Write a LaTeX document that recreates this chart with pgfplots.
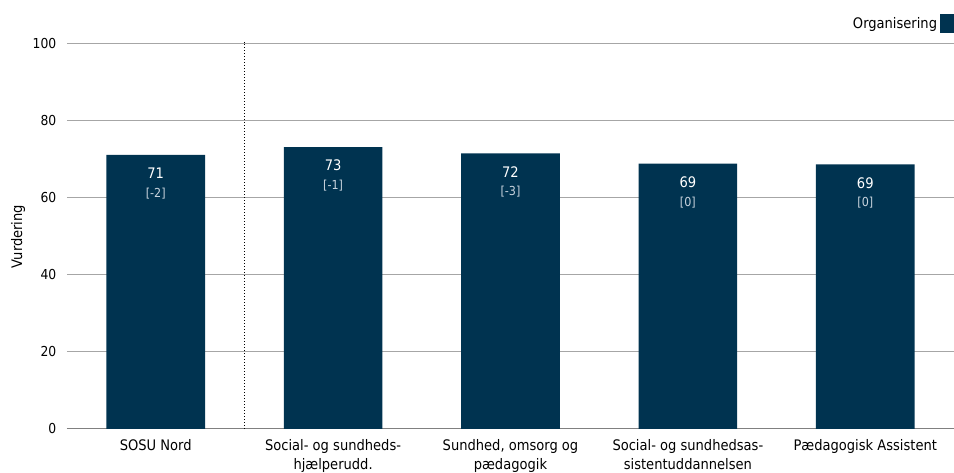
\documentclass[border=0pt]{standalone}
\usepackage{pgfplots}
\pgfplotsset{compat=1.18}
\usepackage{pgfplotstable}
\usepackage{fontspec}
\setmainfont{DejaVu Sans Condensed}
\definecolor{barc}{HTML}{003350}
\definecolor{gridc}{HTML}{A6A6A6}
\definecolor{axc}{HTML}{808080}
\definecolor{subc}{HTML}{C8D3DD}
\pgfplotstableread{
x y lab d
0 71.2 71 -2
1 73.2 73 -1
2 71.6 72 -3
3 68.9 69 0
4 68.7 69 0
}\datatable
\begin{document}
\begin{tikzpicture}[x=0.75pt,y=0.75pt]
\useasboundingbox (-67,-44) rectangle (887,429);
\begin{axis}[
  at={(0,0)}, anchor=south west,
  scale only axis, width=665.25pt, height=288.75pt,
  xmin=-0.5, xmax=4.5, ymin=0, ymax=100,
  ytick={0,20,...,100},
  xtick={0,...,4},
  xticklabels={SOSU Nord, {Social- og sundheds-\\hjælperudd.}, {Sundhed, omsorg og\\pædagogik}, {Social- og sundhedsas-\\sistentuddannelsen}, Pædagogisk Assistent},
  /pgf/number format/assume math mode=true,
  yticklabel style={font=\fontsize{10.3}{14.25}\selectfont, xshift=-4.5pt},
  xticklabel style={align=center, anchor=north, yshift=-4pt, font=\fontsize{10.9}{14.25}\selectfont},
  major tick length=0pt,
  axis lines*=left,
  x axis line style={draw=axc, line width=0.75pt},
  y axis line style={draw=none},
  ymajorgrids, grid style={draw=gridc, line width=0.75pt},
  ylabel={Vurdering},
  ylabel style={at={(axis description cs:-0.0552,0.5)}, anchor=center, font=\fontsize{10.9}{12}\selectfont},
  clip=false,
  legend style={at={(1,1)}, anchor=south east, draw=none, fill=none, inner sep=0pt, yshift=8pt, font=\fontsize{10.9}{12}\selectfont},
  legend plot pos=right,
  legend image code/.code={\fill[barc] (4.5pt,-7pt) rectangle (15pt,7pt);},
]
\addplot[ybar, fill=barc, draw=none, bar width=74pt,
  point meta=explicit symbolic,
  visualization depends on={\thisrow{d}\as\dval},
  nodes near coords={\pgfplotspointmeta\\{\color{subc}\fontsize{9.3}{10}\selectfont[\pgfmathprintnumber[int detect]{\dval}]}},
  nodes near coords style={anchor=north, align=center, text=white, inner sep=0pt, yshift=-9.5pt, font=\fontsize{10.9}{14}\selectfont},
] table[x=x, y=y, meta=lab] {\datatable};
\addlegendentry{Organisering}
\addplot[forget plot, black, line width=0.75pt, dash pattern=on 0.75pt off 1.5pt] coordinates {(0.5,0) (0.5,100.6)};
\end{axis}
\end{tikzpicture}
\end{document}
